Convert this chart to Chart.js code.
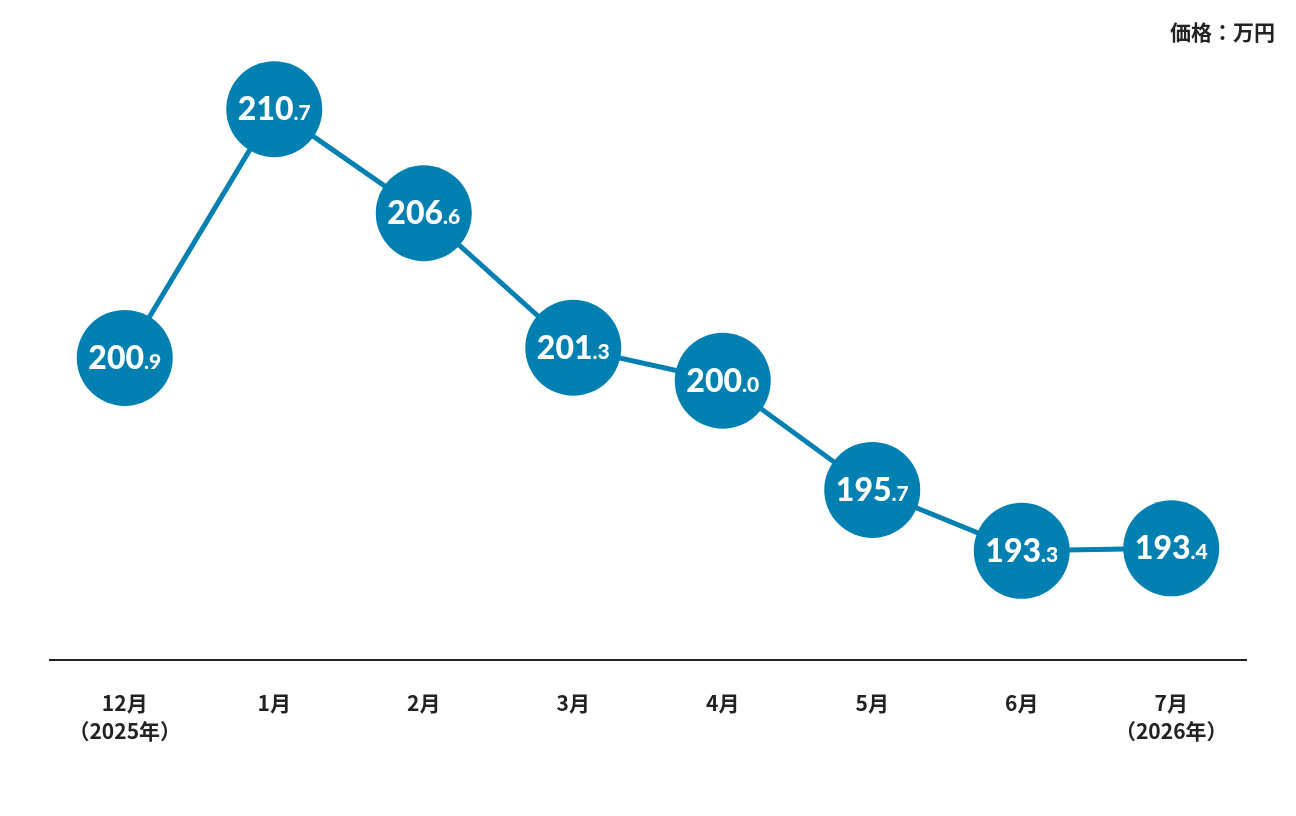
<!DOCTYPE html>
<html><head><meta charset="utf-8">
<script src="https://cdn.jsdelivr.net/npm/chart.js@4/dist/chart.umd.min.js"></script>
<style>
html,body{margin:0;padding:0;background:#fff;}
#wrap{position:relative;width:1296px;height:816px;}
#unit{position:absolute;right:21px;top:16px;font-family:"Noto Sans CJK JP";font-weight:700;font-size:21px;line-height:30px;color:#222;}
</style></head>
<body>
<div id="wrap"><canvas id="c" width="1296" height="816"></canvas><div id="unit">価格：万円</div></div>
<script>
const categories = [['12月','（2025年）'],'1月','2月','3月','4月','5月','6月',['7月','（2026年）']];
const prices = [200.9, 210.7, 206.6, 201.3, 200.0, 195.7, 193.3, 193.4];
const yMin = 189, yMax = 215;
const blue = '#0080B1';

const labelPlugin = {
  id:'bubbleLabels',
  afterDatasetsDraw(chart){
    const ctx = chart.ctx;
    const meta = chart.getDatasetMeta(0);
    ctx.save();
    ctx.fillStyle = '#fff';
    ctx.textBaseline = 'alphabetic';
    meta.data.forEach((pt,i)=>{
      const s = prices[i].toFixed(1).split('.');
      const big = s[0], small = '.' + s[1];
      const bigFont = '900 32px Lato';
      const smallFont = '900 21px Lato';
      ctx.font = bigFont; const wb = ctx.measureText(big).width;
      ctx.font = smallFont; const ws = ctx.measureText(small).width;
      const x0 = pt.x - (wb+ws)/2;
      const base = pt.y + 11;
      ctx.font = bigFont; ctx.textAlign='left'; ctx.fillText(big, x0, base);
      ctx.font = smallFont; ctx.fillText(small, x0+wb, base);
    });
    ctx.restore();
  }
};

new Chart(document.getElementById('c'), {
  type:'line',
  data:{labels:categories, datasets:[{data:prices, borderColor:blue, borderWidth:5,
    pointRadius:48, pointHoverRadius:48, pointBackgroundColor:blue, pointBorderWidth:0,
    tension:0, clip:false}]},
  options:{
    responsive:false, animation:false, devicePixelRatio:1,
    layout:{autoPadding:false, padding:{left:50,right:50,top:0,bottom:0}},
    plugins:{legend:{display:false}, tooltip:{enabled:false}},
    scales:{
      y:{display:false, min:yMin, max:yMax},
      x:{offset:true,
        grid:{display:false, drawTicks:false},
        border:{display:true, color:'#222', width:2},
        ticks:{padding:29, color:'#222', maxRotation:0, autoSkip:false,
          font:{family:'"Noto Sans CJK JP"', size:21, weight:'700', lineHeight:1.34}},
        afterFit(scale){ scale.height = 156; }
      }
    }
  },
  plugins:[labelPlugin]
});
</script>
</body></html>
